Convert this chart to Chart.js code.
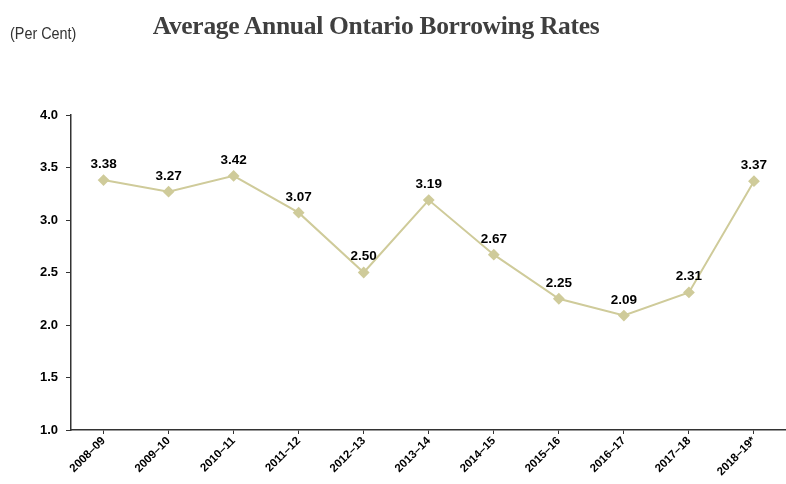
<!DOCTYPE html>
<html>
<head>
<meta charset="utf-8">
<script src="https://cdn.jsdelivr.net/npm/chart.js@4"></script>
<style>
  html, body { margin: 0; padding: 0; background: #fff; overflow: hidden; }
  #wrap { position: relative; width: 786px; height: 484px; overflow: hidden; }
  #title { position: absolute; left: 0; width: 752px; top: 11px; text-align: center;
           font-family: "Liberation Serif", "DejaVu Serif", serif; font-weight: bold;
           font-size: 25.5px; color: #3f3f3f; letter-spacing: -0.3px; }
  #unit { position: absolute; left: 10px; top: 25px; font-family: "Liberation Sans", Arial, sans-serif;
          font-size: 16px; color: #333; transform: scaleX(0.9); transform-origin: left; }
  #chart { position: absolute; left: 0; top: 0; }
</style>
</head>
<body>
<div id="wrap">
  <canvas id="chart" width="793" height="484"></canvas>
  <div id="title">Average Annual Ontario Borrowing Rates</div>
  <div id="unit">(Per Cent)</div>
</div>
<script>
// 年度ラベルと借入金利
const years = ['2008\u201309', '2009\u201310', '2010\u201311', '2011\u201312', '2012\u201313',
               '2013\u201314', '2014\u201315', '2015\u201316', '2016\u201317', '2017\u201318', '2018\u201319*'];
const rates = [3.38, 3.27, 3.42, 3.07, 2.50, 3.19, 2.67, 2.25, 2.09, 2.31, 3.37];
const yTicks = [1.0, 1.5, 2.0, 2.5, 3.0, 3.5, 4.0];

// 点の上に値を描くプラグイン
const valueLabels = {
    id: 'valueLabels',
    afterDatasetsDraw(chart) {
        const ctx = chart.ctx;
        const meta = chart.getDatasetMeta(0);
        ctx.save();
        ctx.font = 'bold 13.5px "Liberation Sans", Arial, sans-serif';
        ctx.fillStyle = '#000';
        ctx.textAlign = 'center';
        ctx.textBaseline = 'bottom';
        meta.data.forEach((pt, i) => {
            ctx.fillText(rates[i].toFixed(2), pt.x, pt.y - 9);
        });
        ctx.restore();
    }
};

const ctx = document.getElementById('chart').getContext('2d');
new Chart(ctx, {
    type: 'line',
    data: {
        labels: years,
        datasets: [{
            data: rates,
            borderColor: '#cfcb9a',
            backgroundColor: '#cfcb9a',
            borderWidth: 2,
            pointStyle: 'rectRot',
            pointRadius: 4.5,
            pointBackgroundColor: '#cfcb9a',
            pointBorderColor: '#cfcb9a',
            tension: 0
        }]
    },
    options: {
        responsive: false,
        animation: false,
        layout: { padding: { left: 0, top: 115, right: 0, bottom: 0 } },
        plugins: { legend: { display: false }, tooltip: { enabled: false } },
        scales: {
            x: {
                offset: true,
                afterFit(axis) { axis.height = 54; axis.paddingRight = 0; axis.paddingLeft = 0; },
                grid: { display: true, drawOnChartArea: false, drawTicks: true, tickLength: 4, tickColor: '#333' },
                border: { color: '#333', width: 1.5 },
                ticks: {
                    color: '#000',
                    font: { family: '"Liberation Sans", Arial, sans-serif', weight: 'bold', size: 11.5 },
                    maxRotation: 45, minRotation: 45, padding: 0
                }
            },
            y: {
                min: 1.0, max: 4.0,
                afterFit(axis) { axis.width = 71; },
                afterBuildTicks(axis) { axis.ticks = yTicks.map(v => ({ value: v })); },
                grid: { display: true, drawOnChartArea: false, drawTicks: true, tickLength: 5, tickColor: '#333' },
                border: { color: '#333', width: 1.5 },
                ticks: {
                    color: '#000',
                    font: { family: '"Liberation Sans", Arial, sans-serif', weight: 'bold', size: 13 },
                    padding: 8,
                    callback: v => Number(v).toFixed(1)
                }
            }
        }
    },
    plugins: [valueLabels]
});
</script>
</body>
</html>
